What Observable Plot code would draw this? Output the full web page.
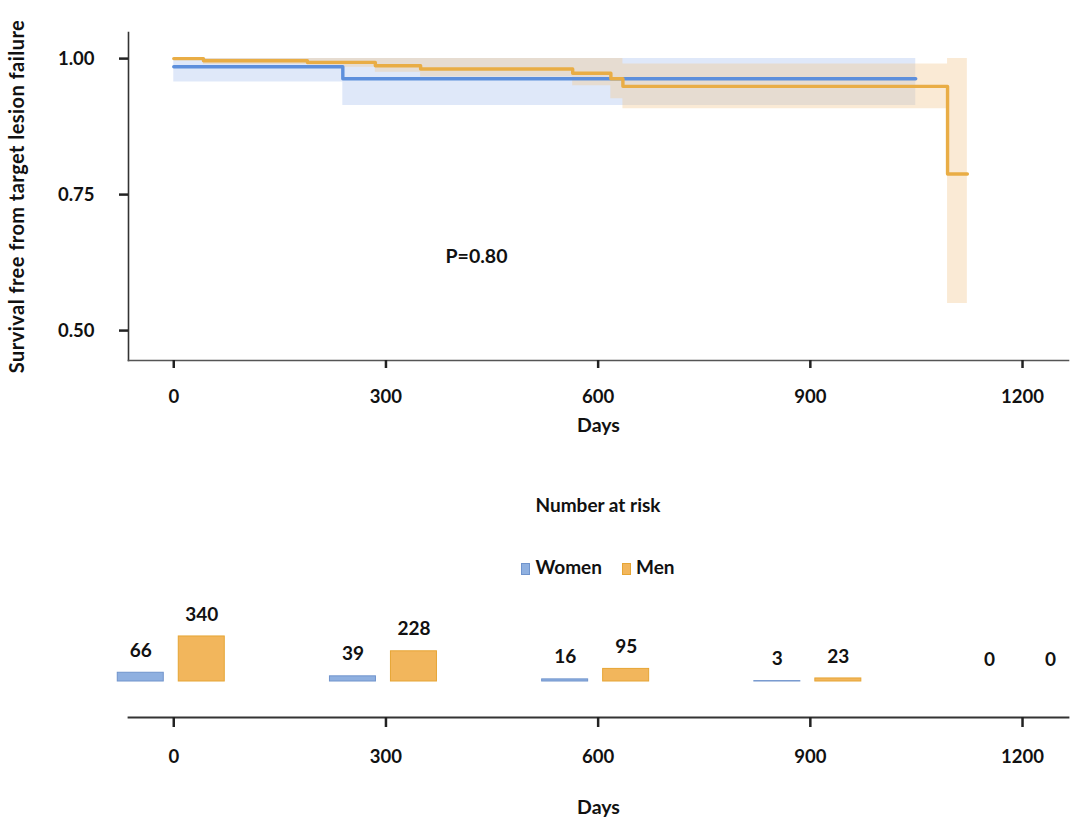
<!DOCTYPE html>
<html>
<head>
<meta charset="utf-8">
<script src="https://cdn.jsdelivr.net/npm/d3@7"></script>
<script src="https://cdn.jsdelivr.net/npm/@observablehq/plot@0.6"></script>
<style>
  body { margin: 0; background: #fff; }
  #wrap { position: relative; width: 1084px; height: 840px; font-family: Lato, "Open Sans", sans-serif; color: #111; }
  #top { position: absolute; left: 0; top: 0; }
  #bottom { position: absolute; left: 0; top: 590px; }
  #risktitle { position: absolute; left: 0; width: 1196px; top: 493px; text-align: center; font-weight: 700; font-size: 19px; line-height: 24px; }
  #legend { position: absolute; left: 0; width: 1196px; top: 555px; text-align: center; font-weight: 700; font-size: 19px; line-height: 24px; }
  #legend .sw { display: inline-block; width: 7px; height: 10px; margin-right: 5px; vertical-align: -1px; }
  #legend .item { margin: 0 10px; }
  svg g[aria-label$="tick label"] { font-weight: 700; font-size: 18.5px; }
  svg g[aria-label="x-axis label"] { font-weight: 700; font-size: 19.5px; }
  svg g[aria-label="y-axis label"] { font-weight: 700; font-size: 20px; letter-spacing: 0.45px; }
</style>
</head>
<body>
<div id="wrap">
  <div id="top"></div>
  <div id="risktitle">Number at risk</div>
  <div id="legend"></div>
  <div id="bottom"></div>
</div>
<script>
// ---- Kaplan–Meier data ----
const womenDays  = [0, 239, 1049];
const womenSurv  = [0.985, 0.963, 0.963];
const womenLower = [0.957, 0.914, 0.914];
const womenUpper = [1.0, 1.0, 1.0];

const menDays  = [0, 42, 189, 285, 349, 564, 618, 635, 1094, 1122];
const menSurv  = [1.0, 0.996, 0.993, 0.987, 0.981, 0.973, 0.963, 0.949, 0.788, 0.788];
const menLower = [1.0, 0.989, 0.984, 0.975, 0.966, 0.950, 0.926, 0.908, 0.550, 0.550];
const menUpper = [1.0, 1.0, 1.0, 1.0, 1.0, 1.0, 1.0, 0.990, 1.0, 1.0];

// ---- Number at risk ----
const riskDays  = [0, 300, 600, 900, 1200];
const riskWomen = [66, 39, 16, 3, 0];
const riskMen   = [340, 228, 95, 23, 0];

// ---- Axes / annotation ----
const dayTicks  = [0, 300, 600, 900, 1200];
const survTicks = [0.50, 0.75, 1.00];
const groups = ["Women", "Men"];
const pAnnotation = [{label: "P=0.80", day: 428, surv: 0.636}];

// ---- styles ----
const colors = {Women: "#5d8fdc", Men: "#e9ad45"};
const bandFill = {Women: "#b8cdf2", Men: "#f2c890"};
const barFill = {Women: "#8fb0e0", Men: "#f2b65c"};
const barStroke = {Women: "#7094cc", Men: "#e6a535"};

const toRows = (days, s, lo, hi, g) => days.map((d, i) => ({day: d, surv: s[i], lower: lo[i], upper: hi[i], group: g}));
const women = toRows(womenDays, womenSurv, womenLower, womenUpper, "Women");
const men = toRows(menDays, menSurv, menLower, menUpper, "Men");

const xDomain = [-64, 1265];
const fmtDay = d => String(d);

const topPlot = Plot.plot({
  width: 1084, height: 440,
  marginLeft: 128, marginRight: 16, marginTop: 32, marginBottom: 80,
  style: {fontFamily: "Lato, 'Open Sans', sans-serif", fontSize: "18px", color: "#111", background: "white"},
  x: {domain: xDomain},
  y: {domain: [0.445, 1.048]},
  marks: [
    Plot.areaY(women, {x: "day", y1: "lower", y2: "upper", curve: "step-after", fill: bandFill.Women, fillOpacity: 0.45}),
    Plot.areaY(men, {x: "day", y1: "lower", y2: "upper", curve: "step-after", fill: bandFill.Men, fillOpacity: 0.38}),
    Plot.line(women, {x: "day", y: "surv", curve: "step-after", stroke: colors.Women, strokeWidth: 3.4}),
    Plot.line(men, {x: "day", y: "surv", curve: "step-after", stroke: colors.Men, strokeWidth: 3.4}),
    Plot.text(pAnnotation, {x: "day", y: "surv", text: "label", fontSize: 19.5, fontWeight: 700, fill: "#111"}),
    Plot.frame({anchor: "left", stroke: "#333", strokeWidth: 1.6}),
    Plot.frame({anchor: "bottom", stroke: "#555", strokeWidth: 1.6}),
    Plot.axisX({ticks: dayTicks, tickFormat: fmtDay, tickSize: 8, tickPadding: 21, strokeWidth: 2.5, stroke: "#222",
      label: "Days", labelAnchor: "center", labelOffset: 71, labelArrow: "none"}),
    Plot.axisY({ticks: survTicks, tickFormat: ".2f", tickSize: 9, tickPadding: 25, strokeWidth: 2.5, stroke: "#222",
      label: "Survival free from target lesion failure", labelAnchor: "center", labelOffset: 119, labelArrow: "none"})
  ]
});
document.getElementById("top").append(topPlot);

// legend
const legend = document.getElementById("legend");
groups.forEach(g => {
  const span = document.createElement("span");
  span.className = "item";
  span.innerHTML = `<span class="sw" style="background:${barFill[g]};border:1px solid ${barStroke[g]}"></span>${g}`;
  legend.append(span);
});

// number at risk bars
const risk = riskDays.flatMap((d, i) => [
  {day: d, group: "Women", n: riskWomen[i]},
  {day: d, group: "Men", n: riskMen[i]}
]);
const offsets = {Women: -33, Men: 28};
const barMarks = groups.flatMap(g => {
  const rows = risk.filter(r => r.group === g);
  return [
    Plot.rect(rows.filter(r => r.n > 0), {x1: "day", x2: "day", y1: () => 0, y2: "n", dx: offsets[g],
      insetLeft: -23, insetRight: -23, fill: barFill[g], stroke: barStroke[g], strokeWidth: 1}),
    Plot.text(rows, {x: "day", y: "n", text: r => String(r.n), dx: offsets[g], dy: -22,
      fontSize: 19, fontWeight: 700, fill: "#111"})
  ];
});

const bottomPlot = Plot.plot({
  width: 1084, height: 250,
  marginLeft: 128, marginRight: 16, marginTop: 20, marginBottom: 123,
  insetBottom: 36,
  style: {fontFamily: "Lato, 'Open Sans', sans-serif", fontSize: "18px", color: "#111", background: "white"},
  x: {domain: xDomain},
  y: {domain: [0, 536], axis: null},
  marks: [
    ...barMarks,
    Plot.frame({anchor: "bottom", stroke: "#333", strokeWidth: 1.8}),
    Plot.axisX({ticks: dayTicks, tickFormat: fmtDay, tickSize: 10, tickPadding: 22, strokeWidth: 2.5, stroke: "#222",
      label: "Days", labelAnchor: "center", labelOffset: 96, labelArrow: "none"})
  ]
});
document.getElementById("bottom").append(bottomPlot);
</script>
</body>
</html>
